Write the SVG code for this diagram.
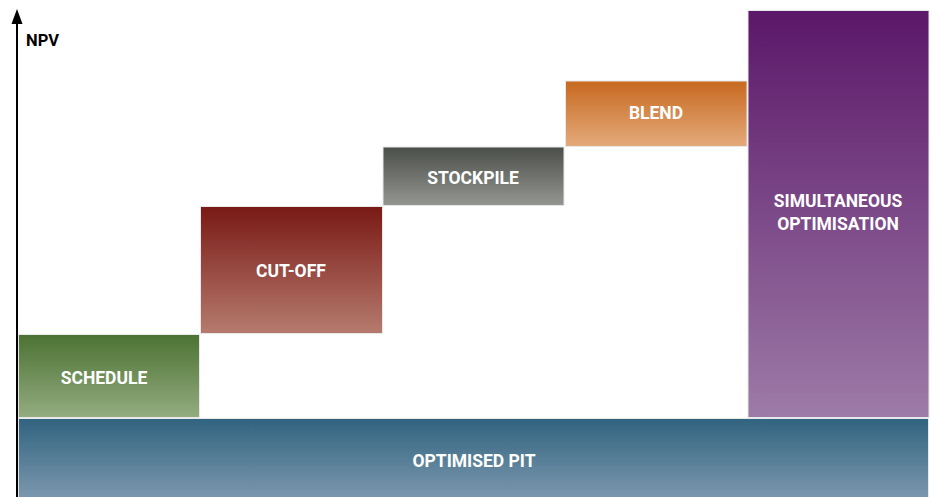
<svg xmlns="http://www.w3.org/2000/svg" width="932" height="497" viewBox="0 0 932 497">
<style>
.box{stroke:#e8e8e8;stroke-width:1}
.lbl{font-family:Roboto,"Liberation Sans",sans-serif;font-weight:bold;font-size:17.5px;fill:#ffffff;text-anchor:middle;dominant-baseline:central}
.ax{font-family:Roboto,"Liberation Sans",sans-serif;font-weight:bold;font-size:16.5px;fill:#000000}
</style>
<defs>
<linearGradient id="gSch" x1="0" y1="0" x2="0" y2="1"><stop offset="0" stop-color="#4b7233"/><stop offset="1" stop-color="#94ac80"/></linearGradient>
<linearGradient id="gPit" x1="0" y1="0" x2="0" y2="1"><stop offset="0" stop-color="#30637f"/><stop offset="1" stop-color="#7c98ae"/></linearGradient>
<linearGradient id="gCut" x1="0" y1="0" x2="0" y2="1"><stop offset="0" stop-color="#791915"/><stop offset="1" stop-color="#b67b6e"/></linearGradient>
<linearGradient id="gSto" x1="0" y1="0" x2="0" y2="1"><stop offset="0" stop-color="#4b4f49"/><stop offset="1" stop-color="#949691"/></linearGradient>
<linearGradient id="gBle" x1="0" y1="0" x2="0" y2="1"><stop offset="0" stop-color="#c76920"/><stop offset="1" stop-color="#e4aa7b"/></linearGradient>
<linearGradient id="gSim" x1="0" y1="0" x2="0" y2="1"><stop offset="0" stop-color="#5b1769"/><stop offset="1" stop-color="#9d7ba7"/></linearGradient>
</defs>
<g id="axis">
<line x1="17" y1="22" x2="17" y2="497" stroke="#000" stroke-width="2"/>
<polygon points="17,9 11.5,24 22.5,24" fill="#000"/>
<text class="ax" x="26" y="46">NPV</text>
</g>
<g id="optimised-pit">
<rect class="box" x="18.5" y="418.5" width="910" height="80" fill="url(#gPit)"/>
<text class="lbl" x="474" y="461">OPTIMISED PIT</text>
</g>
<g id="schedule">
<rect class="box" x="18.5" y="334.5" width="181" height="83" fill="url(#gSch)"/>
<text class="lbl" x="104" y="378">SCHEDULE</text>
</g>
<g id="cut-off">
<rect class="box" x="200.5" y="206.5" width="182" height="127" fill="url(#gCut)"/>
<text class="lbl" x="291" y="271">CUT-OFF</text>
</g>
<g id="stockpile">
<rect class="box" x="383" y="147" width="181" height="58.5" fill="url(#gSto)"/>
<text class="lbl" x="473" y="178">STOCKPILE</text>
</g>
<g id="blend">
<rect class="box" x="565.5" y="81" width="181.5" height="65.5" fill="url(#gBle)"/>
<text class="lbl" x="656" y="113">BLEND</text>
</g>
<g id="simultaneous-optimisation">
<rect class="box" x="748" y="10.5" width="181" height="407" fill="url(#gSim)"/>
<text class="lbl" x="838" y="201">SIMULTANEOUS</text>
<text class="lbl" x="838" y="224">OPTIMISATION</text>
</g>
<g id="connectors"></g>
</svg>
